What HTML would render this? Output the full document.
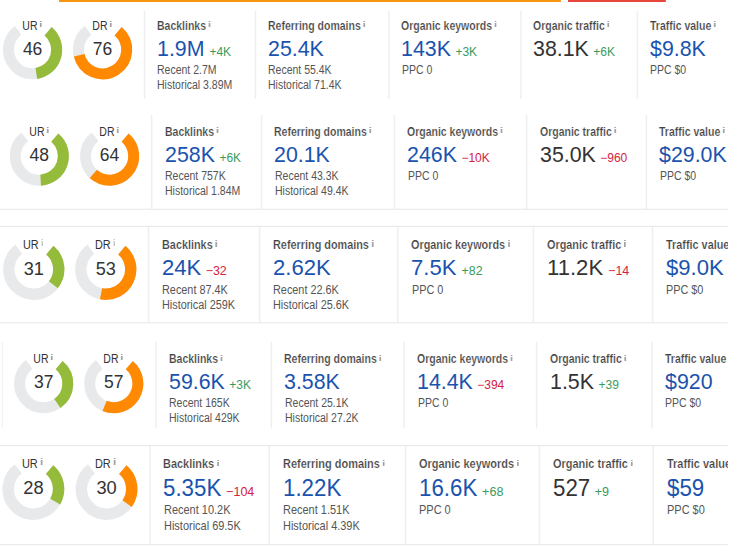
<!DOCTYPE html>
<html><head><meta charset="utf-8"><style>
html,body{margin:0;padding:0;background:#fff;}
body{width:730px;height:555px;position:relative;overflow:hidden;font-family:"Liberation Sans",sans-serif;}
.t{position:absolute;white-space:nowrap;transform-origin:0 0;}
.d{display:inline-block;transform-origin:0 0;}
.ts{-webkit-text-stroke:0.2px #fff;}
.ii{display:inline-block;vertical-align:top;position:relative;background:linear-gradient(to bottom,#a3a3a3 0,#a3a3a3 1.3px,rgba(255,255,255,0) 1.3px,rgba(255,255,255,0) 2.2px,#a3a3a3 2.2px);}
.c{text-align:center;}
svg{position:absolute;left:0;top:0;}
</style></head><body>
<svg width="730" height="555" viewBox="0 0 730 555">
<rect x="59" y="0" width="501.9" height="2" fill="#f4960f"/>
<rect x="568" y="0" width="97.8" height="2" fill="#e8483c"/>
<rect x="143.75" y="11.00" width="1.5" height="88.00" fill="#efeff2"/>
<rect x="254.75" y="11.00" width="1.5" height="88.00" fill="#efeff2"/>
<rect x="388.25" y="11.00" width="1.5" height="88.00" fill="#efeff2"/>
<rect x="520.25" y="11.00" width="1.5" height="88.00" fill="#efeff2"/>
<rect x="636.65" y="11.00" width="1.5" height="88.00" fill="#efeff2"/>
<path d="M48.09 31.24 A24.10 24.10 0 1 1 18.10 30.45" stroke="#e8e9eb" stroke-width="11.00" fill="none"/>
<path d="M48.09 31.24 A24.10 24.10 0 0 1 36.33 73.51" stroke="#95bb3a" stroke-width="11.00" fill="none"/>
<path d="M118.09 31.24 A24.10 24.10 0 1 1 88.10 30.45" stroke="#e8e9eb" stroke-width="11.00" fill="none"/>
<path d="M118.09 31.24 A24.10 24.10 0 1 1 79.16 55.29" stroke="#ff8900" stroke-width="11.00" fill="none"/>
<rect x="150.85" y="115.00" width="1.5" height="94.30" fill="#efeff2"/>
<rect x="260.75" y="115.00" width="1.5" height="94.30" fill="#efeff2"/>
<rect x="393.75" y="115.00" width="1.5" height="94.30" fill="#efeff2"/>
<rect x="525.85" y="115.00" width="1.5" height="94.30" fill="#efeff2"/>
<rect x="645.65" y="115.00" width="1.5" height="94.30" fill="#efeff2"/>
<rect x="0" y="208.70" width="727.5" height="1.2" fill="#eaeaed"/>
<path d="M54.79 137.64 A24.10 24.10 0 1 1 24.80 136.85" stroke="#e8e9eb" stroke-width="11.00" fill="none"/>
<path d="M54.79 137.64 A24.10 24.10 0 0 1 40.65 180.16" stroke="#95bb3a" stroke-width="11.00" fill="none"/>
<path d="M125.09 137.64 A24.10 24.10 0 1 1 95.10 136.85" stroke="#e8e9eb" stroke-width="11.00" fill="none"/>
<path d="M125.09 137.64 A24.10 24.10 0 1 1 93.35 173.90" stroke="#ff8900" stroke-width="11.00" fill="none"/>
<rect x="147.75" y="226.40" width="1.5" height="96.40" fill="#efeff2"/>
<rect x="258.85" y="226.40" width="1.5" height="96.40" fill="#efeff2"/>
<rect x="397.05" y="226.40" width="1.5" height="96.40" fill="#efeff2"/>
<rect x="532.65" y="226.40" width="1.5" height="96.40" fill="#efeff2"/>
<rect x="651.75" y="226.40" width="1.5" height="96.40" fill="#efeff2"/>
<rect x="0" y="225.80" width="727.5" height="1.2" fill="#eaeaed"/>
<rect x="0" y="322.20" width="727.5" height="1.2" fill="#eaeaed"/>
<path d="M49.83 250.19 A24.94 24.94 0 1 1 18.79 249.38" stroke="#e8e9eb" stroke-width="11.38" fill="none"/>
<path d="M49.83 250.19 A24.94 24.94 0 0 1 53.36 284.78" stroke="#95bb3a" stroke-width="11.38" fill="none"/>
<path d="M121.83 250.19 A24.94 24.94 0 1 1 90.79 249.38" stroke="#e8e9eb" stroke-width="11.38" fill="none"/>
<path d="M121.83 250.19 A24.94 24.94 0 0 1 101.02 293.78" stroke="#ff8900" stroke-width="11.38" fill="none"/>
<rect x="155.25" y="342.00" width="1.5" height="86.30" fill="#efeff2"/>
<rect x="270.65" y="342.00" width="1.5" height="86.30" fill="#efeff2"/>
<rect x="403.45" y="342.00" width="1.5" height="86.30" fill="#efeff2"/>
<rect x="535.85" y="342.00" width="1.5" height="86.30" fill="#efeff2"/>
<rect x="651.15" y="342.00" width="1.5" height="86.30" fill="#efeff2"/>
<rect x="1.80" y="342.00" width="1" height="86.30" fill="#efeff2"/>
<path d="M59.19 365.14 A24.10 24.10 0 1 1 29.20 364.35" stroke="#e8e9eb" stroke-width="11.00" fill="none"/>
<path d="M59.19 365.14 A24.10 24.10 0 0 1 57.37 403.45" stroke="#95bb3a" stroke-width="11.00" fill="none"/>
<path d="M129.29 365.14 A24.10 24.10 0 1 1 99.30 364.35" stroke="#e8e9eb" stroke-width="11.00" fill="none"/>
<path d="M129.29 365.14 A24.10 24.10 0 0 1 104.60 405.87" stroke="#ff8900" stroke-width="11.00" fill="none"/>
<rect x="149.25" y="445.60" width="1.5" height="99.00" fill="#efeff2"/>
<rect x="268.55" y="445.60" width="1.5" height="99.00" fill="#efeff2"/>
<rect x="404.85" y="445.60" width="1.5" height="99.00" fill="#efeff2"/>
<rect x="538.75" y="445.60" width="1.5" height="99.00" fill="#efeff2"/>
<rect x="652.55" y="445.60" width="1.5" height="99.00" fill="#efeff2"/>
<rect x="0" y="445.00" width="727.5" height="1.2" fill="#eaeaed"/>
<rect x="0" y="544.00" width="727.5" height="1.2" fill="#eaeaed"/>
<path d="M49.59 469.71 A25.18 25.18 0 1 1 18.24 468.89" stroke="#e8e9eb" stroke-width="11.49" fill="none"/>
<path d="M49.59 469.71 A25.18 25.18 0 0 1 55.25 501.52" stroke="#95bb3a" stroke-width="11.49" fill="none"/>
<path d="M122.79 469.71 A25.18 25.18 0 1 1 91.44 468.89" stroke="#e8e9eb" stroke-width="11.49" fill="none"/>
<path d="M122.79 469.71 A25.18 25.18 0 0 1 127.10 503.62" stroke="#ff8900" stroke-width="11.49" fill="none"/>
</svg>
<div class="t c" style="left:-8.20px;top:20.04px;font-size:12.00px;line-height:12.00px;color:#333333;font-weight:400;transform:scaleX(0.8750);width:80px;transform-origin:40px 0;">UR<span class="ii" style="width:1.80px;height:6.20px;top:0.60px;margin-left:3.00px"></span></div>
<div class="t c" style="left:-7.40px;top:40.89px;font-size:17.50px;line-height:17.50px;color:#333333;font-weight:400;width:80px;">46</div>
<div class="t c" style="left:61.80px;top:20.04px;font-size:12.00px;line-height:12.00px;color:#333333;font-weight:400;transform:scaleX(0.8750);width:80px;transform-origin:40px 0;">DR<span class="ii" style="width:1.80px;height:6.20px;top:0.60px;margin-left:3.00px"></span></div>
<div class="t c" style="left:62.60px;top:40.89px;font-size:17.50px;line-height:17.50px;color:#333333;font-weight:400;width:80px;">76</div>
<div class="t" style="left:156.60px;top:19.54px;font-size:12.00px;line-height:12.00px;color:#424242;font-weight:700;transform:scaleX(0.8750);"><span class="ts">Backlinks</span><span class="ii" style="width:1.60px;height:6.00px;top:1.60px;margin-left:3.20px"></span></div>
<div class="t" style="left:156.60px;top:38.08px;font-size:22.00px;line-height:22.00px;color:#1a53ae;font-weight:400;transform:scaleX(0.9710);">1.9M<span class="d" style="font-size:12.00px;color:#3a9a5e;margin-left:4.63px;transform:scaleX(1.0299)">+4K</span></div>
<div class="t" style="left:157.00px;top:63.84px;font-size:12.00px;line-height:12.00px;color:#555555;font-weight:400;transform:scaleX(0.8750);">Recent 2.7M</div>
<div class="t" style="left:157.00px;top:78.84px;font-size:12.00px;line-height:12.00px;color:#555555;font-weight:400;transform:scaleX(0.8750);">Historical 3.89M</div>
<div class="t" style="left:267.60px;top:19.54px;font-size:12.00px;line-height:12.00px;color:#424242;font-weight:700;transform:scaleX(0.8750);"><span class="ts">Referring domains</span><span class="ii" style="width:1.60px;height:6.00px;top:1.60px;margin-left:3.20px"></span></div>
<div class="t" style="left:267.60px;top:38.08px;font-size:22.00px;line-height:22.00px;color:#1a53ae;font-weight:400;transform:scaleX(0.9710);">25.4K</div>
<div class="t" style="left:268.00px;top:63.84px;font-size:12.00px;line-height:12.00px;color:#555555;font-weight:400;transform:scaleX(0.8750);">Recent 55.4K</div>
<div class="t" style="left:268.00px;top:78.84px;font-size:12.00px;line-height:12.00px;color:#555555;font-weight:400;transform:scaleX(0.8750);">Historical 71.4K</div>
<div class="t" style="left:401.10px;top:19.54px;font-size:12.00px;line-height:12.00px;color:#424242;font-weight:700;transform:scaleX(0.8750);"><span class="ts">Organic keywords</span><span class="ii" style="width:1.60px;height:6.00px;top:1.60px;margin-left:3.20px"></span></div>
<div class="t" style="left:401.10px;top:38.08px;font-size:22.00px;line-height:22.00px;color:#1a53ae;font-weight:400;transform:scaleX(0.9710);">143K<span class="d" style="font-size:12.00px;color:#3a9a5e;margin-left:4.63px;transform:scaleX(1.0299)">+3K</span></div>
<div class="t" style="left:401.50px;top:63.84px;font-size:12.00px;line-height:12.00px;color:#555555;font-weight:400;transform:scaleX(0.8750);">PPC 0</div>
<div class="t" style="left:533.10px;top:19.54px;font-size:12.00px;line-height:12.00px;color:#424242;font-weight:700;transform:scaleX(0.8750);"><span class="ts">Organic traffic</span><span class="ii" style="width:1.60px;height:6.00px;top:1.60px;margin-left:3.20px"></span></div>
<div class="t" style="left:533.10px;top:38.08px;font-size:22.00px;line-height:22.00px;color:#333333;font-weight:400;transform:scaleX(0.9710);">38.1K<span class="d" style="font-size:12.00px;color:#3a9a5e;margin-left:4.63px;transform:scaleX(1.0299)">+6K</span></div>
<div class="t" style="left:649.50px;top:19.54px;font-size:12.00px;line-height:12.00px;color:#424242;font-weight:700;transform:scaleX(0.8750);"><span class="ts">Traffic value</span><span class="ii" style="width:1.60px;height:6.00px;top:1.60px;margin-left:3.20px"></span></div>
<div class="t" style="left:649.50px;top:38.08px;font-size:22.00px;line-height:22.00px;color:#1a53ae;font-weight:400;transform:scaleX(0.9710);">$9.8K</div>
<div class="t" style="left:649.90px;top:63.84px;font-size:12.00px;line-height:12.00px;color:#555555;font-weight:400;transform:scaleX(0.8750);">PPC $0</div>
<div class="t c" style="left:-1.50px;top:126.04px;font-size:12.00px;line-height:12.00px;color:#333333;font-weight:400;transform:scaleX(0.8750);width:80px;transform-origin:40px 0;">UR<span class="ii" style="width:1.80px;height:6.20px;top:0.60px;margin-left:3.00px"></span></div>
<div class="t c" style="left:-0.70px;top:147.29px;font-size:17.50px;line-height:17.50px;color:#333333;font-weight:400;width:80px;">48</div>
<div class="t c" style="left:68.80px;top:126.04px;font-size:12.00px;line-height:12.00px;color:#333333;font-weight:400;transform:scaleX(0.8750);width:80px;transform-origin:40px 0;">DR<span class="ii" style="width:1.80px;height:6.20px;top:0.60px;margin-left:3.00px"></span></div>
<div class="t c" style="left:69.60px;top:147.29px;font-size:17.50px;line-height:17.50px;color:#333333;font-weight:400;width:80px;">64</div>
<div class="t" style="left:164.50px;top:125.54px;font-size:12.00px;line-height:12.00px;color:#424242;font-weight:700;transform:scaleX(0.8750);"><span class="ts">Backlinks</span><span class="ii" style="width:1.60px;height:6.00px;top:1.60px;margin-left:3.20px"></span></div>
<div class="t" style="left:164.50px;top:144.08px;font-size:22.00px;line-height:22.00px;color:#1a53ae;font-weight:400;transform:scaleX(0.9710);">258K<span class="d" style="font-size:12.00px;color:#3a9a5e;margin-left:4.63px;transform:scaleX(1.0299)">+6K</span></div>
<div class="t" style="left:164.90px;top:169.84px;font-size:12.00px;line-height:12.00px;color:#555555;font-weight:400;transform:scaleX(0.8750);">Recent 757K</div>
<div class="t" style="left:164.90px;top:184.84px;font-size:12.00px;line-height:12.00px;color:#555555;font-weight:400;transform:scaleX(0.8750);">Historical 1.84M</div>
<div class="t" style="left:274.40px;top:125.54px;font-size:12.00px;line-height:12.00px;color:#424242;font-weight:700;transform:scaleX(0.8750);"><span class="ts">Referring domains</span><span class="ii" style="width:1.60px;height:6.00px;top:1.60px;margin-left:3.20px"></span></div>
<div class="t" style="left:274.40px;top:144.08px;font-size:22.00px;line-height:22.00px;color:#1a53ae;font-weight:400;transform:scaleX(0.9710);">20.1K</div>
<div class="t" style="left:274.80px;top:169.84px;font-size:12.00px;line-height:12.00px;color:#555555;font-weight:400;transform:scaleX(0.8750);">Recent 43.3K</div>
<div class="t" style="left:274.80px;top:184.84px;font-size:12.00px;line-height:12.00px;color:#555555;font-weight:400;transform:scaleX(0.8750);">Historical 49.4K</div>
<div class="t" style="left:407.40px;top:125.54px;font-size:12.00px;line-height:12.00px;color:#424242;font-weight:700;transform:scaleX(0.8750);"><span class="ts">Organic keywords</span><span class="ii" style="width:1.60px;height:6.00px;top:1.60px;margin-left:3.20px"></span></div>
<div class="t" style="left:407.40px;top:144.08px;font-size:22.00px;line-height:22.00px;color:#1a53ae;font-weight:400;transform:scaleX(0.9710);">246K<span class="d" style="font-size:12.00px;color:#d4213d;margin-left:4.63px;transform:scaleX(1.0299)">−10K</span></div>
<div class="t" style="left:407.80px;top:169.84px;font-size:12.00px;line-height:12.00px;color:#555555;font-weight:400;transform:scaleX(0.8750);">PPC 0</div>
<div class="t" style="left:539.50px;top:125.54px;font-size:12.00px;line-height:12.00px;color:#424242;font-weight:700;transform:scaleX(0.8750);"><span class="ts">Organic traffic</span><span class="ii" style="width:1.60px;height:6.00px;top:1.60px;margin-left:3.20px"></span></div>
<div class="t" style="left:539.50px;top:144.08px;font-size:22.00px;line-height:22.00px;color:#333333;font-weight:400;transform:scaleX(0.9710);">35.0K<span class="d" style="font-size:12.00px;color:#d4213d;margin-left:4.63px;transform:scaleX(1.0299)">−960</span></div>
<div class="t" style="left:659.30px;top:125.54px;font-size:12.00px;line-height:12.00px;color:#424242;font-weight:700;transform:scaleX(0.8750);"><span class="ts">Traffic value</span><span class="ii" style="width:1.60px;height:6.00px;top:1.60px;margin-left:3.20px"></span></div>
<div class="t" style="left:659.30px;top:144.08px;font-size:22.00px;line-height:22.00px;color:#1a53ae;font-weight:400;transform:scaleX(0.9710);">$29.0K</div>
<div class="t" style="left:659.70px;top:169.84px;font-size:12.00px;line-height:12.00px;color:#555555;font-weight:400;transform:scaleX(0.8750);">PPC $0</div>
<div class="t c" style="left:-7.33px;top:238.50px;font-size:12.42px;line-height:12.42px;color:#333333;font-weight:400;transform:scaleX(0.8750);width:80px;transform-origin:40px 0;">UR<span class="ii" style="width:1.86px;height:6.42px;top:0.62px;margin-left:3.10px"></span></div>
<div class="t c" style="left:-6.20px;top:259.58px;font-size:18.11px;line-height:18.11px;color:#333333;font-weight:400;width:80px;">31</div>
<div class="t c" style="left:64.67px;top:238.50px;font-size:12.42px;line-height:12.42px;color:#333333;font-weight:400;transform:scaleX(0.8750);width:80px;transform-origin:40px 0;">DR<span class="ii" style="width:1.86px;height:6.42px;top:0.62px;margin-left:3.10px"></span></div>
<div class="t c" style="left:65.80px;top:259.58px;font-size:18.11px;line-height:18.11px;color:#333333;font-weight:400;width:80px;">53</div>
<div class="t" style="left:161.82px;top:238.69px;font-size:12.42px;line-height:12.42px;color:#424242;font-weight:700;transform:scaleX(0.8750);"><span class="ts">Backlinks</span><span class="ii" style="width:1.66px;height:6.21px;top:1.66px;margin-left:3.31px"></span></div>
<div class="t" style="left:161.82px;top:256.27px;font-size:22.77px;line-height:22.77px;color:#1a53ae;font-weight:400;transform:scaleX(0.9710);">24K<span class="d" style="font-size:12.42px;color:#d4213d;margin-left:4.80px;transform:scaleX(1.0299)">−32</span></div>
<div class="t" style="left:162.24px;top:283.54px;font-size:12.42px;line-height:12.42px;color:#555555;font-weight:400;transform:scaleX(0.8750);">Recent 87.4K</div>
<div class="t" style="left:162.24px;top:299.06px;font-size:12.42px;line-height:12.42px;color:#555555;font-weight:400;transform:scaleX(0.8750);">Historical 259K</div>
<div class="t" style="left:272.92px;top:238.69px;font-size:12.42px;line-height:12.42px;color:#424242;font-weight:700;transform:scaleX(0.8750);"><span class="ts">Referring domains</span><span class="ii" style="width:1.66px;height:6.21px;top:1.66px;margin-left:3.31px"></span></div>
<div class="t" style="left:272.92px;top:256.27px;font-size:22.77px;line-height:22.77px;color:#1a53ae;font-weight:400;transform:scaleX(0.9710);">2.62K</div>
<div class="t" style="left:273.34px;top:283.54px;font-size:12.42px;line-height:12.42px;color:#555555;font-weight:400;transform:scaleX(0.8750);">Recent 22.6K</div>
<div class="t" style="left:273.34px;top:299.06px;font-size:12.42px;line-height:12.42px;color:#555555;font-weight:400;transform:scaleX(0.8750);">Historical 25.6K</div>
<div class="t" style="left:411.12px;top:238.69px;font-size:12.42px;line-height:12.42px;color:#424242;font-weight:700;transform:scaleX(0.8750);"><span class="ts">Organic keywords</span><span class="ii" style="width:1.66px;height:6.21px;top:1.66px;margin-left:3.31px"></span></div>
<div class="t" style="left:411.12px;top:256.27px;font-size:22.77px;line-height:22.77px;color:#1a53ae;font-weight:400;transform:scaleX(0.9710);">7.5K<span class="d" style="font-size:12.42px;color:#3a9a5e;margin-left:4.80px;transform:scaleX(1.0299)">+82</span></div>
<div class="t" style="left:411.54px;top:283.54px;font-size:12.42px;line-height:12.42px;color:#555555;font-weight:400;transform:scaleX(0.8750);">PPC 0</div>
<div class="t" style="left:546.72px;top:238.69px;font-size:12.42px;line-height:12.42px;color:#424242;font-weight:700;transform:scaleX(0.8750);"><span class="ts">Organic traffic</span><span class="ii" style="width:1.66px;height:6.21px;top:1.66px;margin-left:3.31px"></span></div>
<div class="t" style="left:546.72px;top:256.27px;font-size:22.77px;line-height:22.77px;color:#333333;font-weight:400;transform:scaleX(0.9710);">11.2K<span class="d" style="font-size:12.42px;color:#d4213d;margin-left:4.80px;transform:scaleX(1.0299)">−14</span></div>
<div class="t" style="left:665.82px;top:238.69px;font-size:12.42px;line-height:12.42px;color:#424242;font-weight:700;transform:scaleX(0.8750);"><span class="ts">Traffic value</span><span class="ii" style="width:1.66px;height:6.21px;top:1.66px;margin-left:3.31px"></span></div>
<div class="t" style="left:665.82px;top:256.27px;font-size:22.77px;line-height:22.77px;color:#1a53ae;font-weight:400;transform:scaleX(0.9710);">$9.0K</div>
<div class="t" style="left:666.24px;top:283.54px;font-size:12.42px;line-height:12.42px;color:#555555;font-weight:400;transform:scaleX(0.8750);">PPC $0</div>
<div class="t c" style="left:2.90px;top:353.34px;font-size:12.00px;line-height:12.00px;color:#333333;font-weight:400;transform:scaleX(0.8750);width:80px;transform-origin:40px 0;">UR<span class="ii" style="width:1.80px;height:6.20px;top:0.60px;margin-left:3.00px"></span></div>
<div class="t c" style="left:3.70px;top:374.19px;font-size:17.50px;line-height:17.50px;color:#333333;font-weight:400;width:80px;">37</div>
<div class="t c" style="left:73.00px;top:353.34px;font-size:12.00px;line-height:12.00px;color:#333333;font-weight:400;transform:scaleX(0.8750);width:80px;transform-origin:40px 0;">DR<span class="ii" style="width:1.80px;height:6.20px;top:0.60px;margin-left:3.00px"></span></div>
<div class="t c" style="left:73.80px;top:374.19px;font-size:17.50px;line-height:17.50px;color:#333333;font-weight:400;width:80px;">57</div>
<div class="t" style="left:168.90px;top:353.34px;font-size:12.00px;line-height:12.00px;color:#424242;font-weight:700;transform:scaleX(0.8750);"><span class="ts">Backlinks</span><span class="ii" style="width:1.60px;height:6.00px;top:1.60px;margin-left:3.20px"></span></div>
<div class="t" style="left:168.90px;top:371.08px;font-size:22.00px;line-height:22.00px;color:#1a53ae;font-weight:400;transform:scaleX(0.9710);">59.6K<span class="d" style="font-size:12.00px;color:#3a9a5e;margin-left:4.63px;transform:scaleX(1.0299)">+3K</span></div>
<div class="t" style="left:169.30px;top:396.94px;font-size:12.00px;line-height:12.00px;color:#555555;font-weight:400;transform:scaleX(0.8750);">Recent 165K</div>
<div class="t" style="left:169.30px;top:411.94px;font-size:12.00px;line-height:12.00px;color:#555555;font-weight:400;transform:scaleX(0.8750);">Historical 429K</div>
<div class="t" style="left:284.30px;top:353.34px;font-size:12.00px;line-height:12.00px;color:#424242;font-weight:700;transform:scaleX(0.8750);"><span class="ts">Referring domains</span><span class="ii" style="width:1.60px;height:6.00px;top:1.60px;margin-left:3.20px"></span></div>
<div class="t" style="left:284.30px;top:371.08px;font-size:22.00px;line-height:22.00px;color:#1a53ae;font-weight:400;transform:scaleX(0.9710);">3.58K</div>
<div class="t" style="left:284.70px;top:396.94px;font-size:12.00px;line-height:12.00px;color:#555555;font-weight:400;transform:scaleX(0.8750);">Recent 25.1K</div>
<div class="t" style="left:284.70px;top:411.94px;font-size:12.00px;line-height:12.00px;color:#555555;font-weight:400;transform:scaleX(0.8750);">Historical 27.2K</div>
<div class="t" style="left:417.10px;top:353.34px;font-size:12.00px;line-height:12.00px;color:#424242;font-weight:700;transform:scaleX(0.8750);"><span class="ts">Organic keywords</span><span class="ii" style="width:1.60px;height:6.00px;top:1.60px;margin-left:3.20px"></span></div>
<div class="t" style="left:417.10px;top:371.08px;font-size:22.00px;line-height:22.00px;color:#1a53ae;font-weight:400;transform:scaleX(0.9710);">14.4K<span class="d" style="font-size:12.00px;color:#d4213d;margin-left:4.63px;transform:scaleX(1.0299)">−394</span></div>
<div class="t" style="left:417.50px;top:396.94px;font-size:12.00px;line-height:12.00px;color:#555555;font-weight:400;transform:scaleX(0.8750);">PPC 0</div>
<div class="t" style="left:549.50px;top:353.34px;font-size:12.00px;line-height:12.00px;color:#424242;font-weight:700;transform:scaleX(0.8750);"><span class="ts">Organic traffic</span><span class="ii" style="width:1.60px;height:6.00px;top:1.60px;margin-left:3.20px"></span></div>
<div class="t" style="left:549.50px;top:371.08px;font-size:22.00px;line-height:22.00px;color:#333333;font-weight:400;transform:scaleX(0.9710);">1.5K<span class="d" style="font-size:12.00px;color:#3a9a5e;margin-left:4.63px;transform:scaleX(1.0299)">+39</span></div>
<div class="t" style="left:664.80px;top:353.34px;font-size:12.00px;line-height:12.00px;color:#424242;font-weight:700;transform:scaleX(0.8750);"><span class="ts">Traffic value</span><span class="ii" style="width:1.60px;height:6.00px;top:1.60px;margin-left:3.20px"></span></div>
<div class="t" style="left:664.80px;top:371.08px;font-size:22.00px;line-height:22.00px;color:#1a53ae;font-weight:400;transform:scaleX(0.9710);">$920</div>
<div class="t" style="left:665.20px;top:396.94px;font-size:12.00px;line-height:12.00px;color:#555555;font-weight:400;transform:scaleX(0.8750);">PPC $0</div>
<div class="t c" style="left:-7.74px;top:457.61px;font-size:12.54px;line-height:12.54px;color:#333333;font-weight:400;transform:scaleX(0.8750);width:80px;transform-origin:40px 0;">UR<span class="ii" style="width:1.88px;height:6.48px;top:0.63px;margin-left:3.13px"></span></div>
<div class="t c" style="left:-6.60px;top:479.09px;font-size:18.29px;line-height:18.29px;color:#333333;font-weight:400;width:80px;">28</div>
<div class="t c" style="left:65.46px;top:457.61px;font-size:12.54px;line-height:12.54px;color:#333333;font-weight:400;transform:scaleX(0.8750);width:80px;transform-origin:40px 0;">DR<span class="ii" style="width:1.88px;height:6.48px;top:0.63px;margin-left:3.13px"></span></div>
<div class="t c" style="left:66.60px;top:479.09px;font-size:18.29px;line-height:18.29px;color:#333333;font-weight:400;width:80px;">30</div>
<div class="t" style="left:163.44px;top:458.08px;font-size:12.54px;line-height:12.54px;color:#424242;font-weight:700;transform:scaleX(0.8750);"><span class="ts">Backlinks</span><span class="ii" style="width:1.67px;height:6.27px;top:1.67px;margin-left:3.34px"></span></div>
<div class="t" style="left:163.44px;top:476.65px;font-size:22.99px;line-height:22.99px;color:#1a53ae;font-weight:400;transform:scaleX(0.9710);">5.35K<span class="d" style="font-size:12.54px;color:#d4213d;margin-left:4.84px;transform:scaleX(1.0299)">−104</span></div>
<div class="t" style="left:163.86px;top:503.98px;font-size:12.54px;line-height:12.54px;color:#555555;font-weight:400;transform:scaleX(0.8750);">Recent 10.2K</div>
<div class="t" style="left:163.86px;top:519.65px;font-size:12.54px;line-height:12.54px;color:#555555;font-weight:400;transform:scaleX(0.8750);">Historical 69.5K</div>
<div class="t" style="left:282.74px;top:458.08px;font-size:12.54px;line-height:12.54px;color:#424242;font-weight:700;transform:scaleX(0.8750);"><span class="ts">Referring domains</span><span class="ii" style="width:1.67px;height:6.27px;top:1.67px;margin-left:3.34px"></span></div>
<div class="t" style="left:282.74px;top:476.65px;font-size:22.99px;line-height:22.99px;color:#1a53ae;font-weight:400;transform:scaleX(0.9710);">1.22K</div>
<div class="t" style="left:283.16px;top:503.98px;font-size:12.54px;line-height:12.54px;color:#555555;font-weight:400;transform:scaleX(0.8750);">Recent 1.51K</div>
<div class="t" style="left:283.16px;top:519.65px;font-size:12.54px;line-height:12.54px;color:#555555;font-weight:400;transform:scaleX(0.8750);">Historical 4.39K</div>
<div class="t" style="left:419.04px;top:458.08px;font-size:12.54px;line-height:12.54px;color:#424242;font-weight:700;transform:scaleX(0.8750);"><span class="ts">Organic keywords</span><span class="ii" style="width:1.67px;height:6.27px;top:1.67px;margin-left:3.34px"></span></div>
<div class="t" style="left:419.04px;top:476.65px;font-size:22.99px;line-height:22.99px;color:#1a53ae;font-weight:400;transform:scaleX(0.9710);">16.6K<span class="d" style="font-size:12.54px;color:#3a9a5e;margin-left:4.84px;transform:scaleX(1.0299)">+68</span></div>
<div class="t" style="left:419.46px;top:503.98px;font-size:12.54px;line-height:12.54px;color:#555555;font-weight:400;transform:scaleX(0.8750);">PPC 0</div>
<div class="t" style="left:552.94px;top:458.08px;font-size:12.54px;line-height:12.54px;color:#424242;font-weight:700;transform:scaleX(0.8750);"><span class="ts">Organic traffic</span><span class="ii" style="width:1.67px;height:6.27px;top:1.67px;margin-left:3.34px"></span></div>
<div class="t" style="left:552.94px;top:476.65px;font-size:22.99px;line-height:22.99px;color:#333333;font-weight:400;transform:scaleX(0.9710);">527<span class="d" style="font-size:12.54px;color:#3a9a5e;margin-left:4.84px;transform:scaleX(1.0299)">+9</span></div>
<div class="t" style="left:666.74px;top:458.08px;font-size:12.54px;line-height:12.54px;color:#424242;font-weight:700;transform:scaleX(0.8750);"><span class="ts">Traffic value</span><span class="ii" style="width:1.67px;height:6.27px;top:1.67px;margin-left:3.34px"></span></div>
<div class="t" style="left:666.74px;top:476.65px;font-size:22.99px;line-height:22.99px;color:#1a53ae;font-weight:400;transform:scaleX(0.9710);">$59</div>
<div class="t" style="left:667.16px;top:503.98px;font-size:12.54px;line-height:12.54px;color:#555555;font-weight:400;transform:scaleX(0.8750);">PPC $0</div>

<div style="position:absolute;left:727.5px;top:0;width:3px;height:555px;background:#fff"></div>
</body></html>
